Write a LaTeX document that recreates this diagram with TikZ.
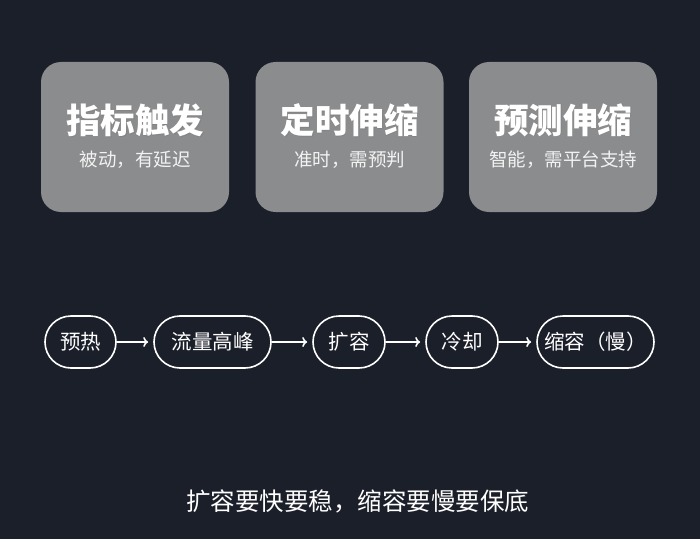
\documentclass[tikz,border=0pt]{standalone}
\usepackage{fontspec}
\setmainfont{Noto Sans CJK SC}
\usetikzlibrary{arrows.meta,positioning}
\definecolor{bgc}{HTML}{1B1F2A}
\definecolor{cardc}{HTML}{8B8C8E}
\definecolor{subc}{HTML}{F2F2F2}
\tikzset{
  card/.style={fill=cardc, rounded corners=20pt, minimum width=188pt, minimum height=150pt, draw=none, inner sep=0pt},
  cardtitle/.style={text=white, font=\fontsize{34.5}{38}\selectfont\bfseries, inner sep=0pt},
  cardsub/.style={text=subc, font=\fontsize{18.5}{22}\selectfont, inner sep=0pt},
  pill/.style={draw=white, line width=1.6pt, rounded corners=26pt, minimum height=52pt, text=white, font=\fontsize{20.5}{24}\selectfont, inner sep=0pt},
  flowarrow/.style={draw=white, line width=1.6pt, -{To[length=5pt,width=10pt,line width=1.6pt]}, shorten >=5pt},
  note/.style={text=white, font=\fontsize{24.5}{28}\selectfont, inner sep=0pt}
}
\begin{document}
\begin{tikzpicture}[x=1pt,y=1pt]
\fill[bgc] (0,0) rectangle (700,539);
\useasboundingbox (0,0) rectangle (700,539);
% cards
\node[card] (c1) at (135,402) {};
\node[card] (c2) at (349.5,402) {};
\node[card] (c3) at (563,402) {};
\foreach \n/\t/\s in {c1/指标触发/被动，有延迟, c2/定时伸缩/准时，需预判, c3/预测伸缩/智能，需平台支持}{
  \node[cardtitle, text=black!55, opacity=0.35] at ([xshift=0.8pt,yshift=16.2pt]\n.center) {\t};
  \node[cardtitle] (\n t) at ([yshift=17pt]\n.center) {\t};
  \node[cardsub] (\n s) at ([yshift=-23pt]\n.center) {\s};
}
% flow
\node[pill, minimum width=71pt] (p1) at (80.5,197) {预热};
\node[pill, minimum width=117pt] (p2) at (212.5,197) {流量高峰};
\node[pill, minimum width=72pt] (p3) at (349,197) {扩容};
\node[pill, minimum width=72pt] (p4) at (462,197) {冷却};
\node[pill, minimum width=117pt] (p5) at (595.5,197) {缩容（慢）};
\draw[flowarrow] (p1) -- (p2);
\draw[flowarrow] (p2) -- (p3);
\draw[flowarrow] (p3) -- (p4);
\draw[flowarrow] (p4) -- (p5);
% note
\node[note] (n) at (357.5,38) {扩容要快要稳，缩容要慢要保底};
\end{tikzpicture}
\end{document}
